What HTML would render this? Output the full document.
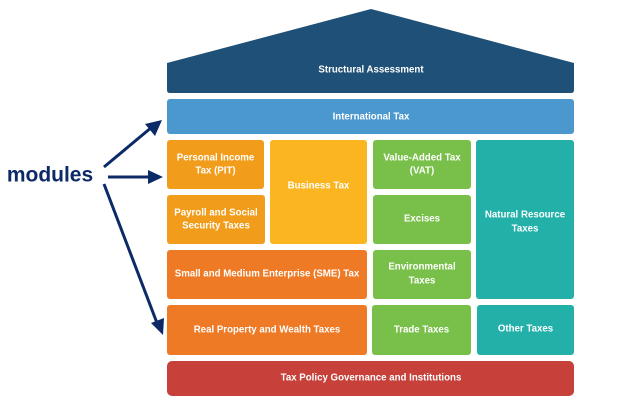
<!DOCTYPE html>
<html>
<head>
<meta charset="utf-8">
<style>
html,body{margin:0;padding:0;background:#fff;}
svg{display:block;}
text{font-family:"Liberation Sans",Arial,sans-serif;font-weight:bold;fill:#fff;font-size:9.7px;text-anchor:middle;dominant-baseline:central;}
</style>
</head>
<body>
<svg width="624" height="404" viewBox="0 0 624 404" xmlns="http://www.w3.org/2000/svg">
  <!-- roof -->
  <path d="M167,63 L371,9 L574,63 L574,90 Q574,93 571,93 L170,93 Q167,93 167,90 Z" fill="#1f5077"/>
  <text x="371" y="70">Structural Assessment</text>

  <rect x="167" y="99" width="407" height="35" rx="3" fill="#4b98cf"/>
  <text x="371" y="117">International Tax</text>

  <rect x="167" y="140" width="97" height="49" rx="3" fill="#f29c1c"/>
  <text x="215.5" y="158">Personal Income</text>
  <text x="215.5" y="171">Tax (PIT)</text>

  <rect x="167" y="195" width="98" height="49" rx="3" fill="#f29c1c"/>
  <text x="216" y="213">Payroll and Social</text>
  <text x="216" y="226">Security Taxes</text>

  <rect x="270" y="140" width="97" height="104" rx="3" fill="#fbb520"/>
  <text x="318.5" y="186">Business Tax</text>

  <rect x="373" y="140" width="98" height="49" rx="3" fill="#79c04a"/>
  <text x="422" y="158">Value-Added Tax</text>
  <text x="422" y="171">(VAT)</text>

  <rect x="373" y="195" width="98" height="49" rx="3" fill="#79c04a"/>
  <text x="422" y="219">Excises</text>

  <rect x="476" y="140" width="98" height="159" rx="3" fill="#22b0a9"/>
  <text x="525" y="215">Natural Resource</text>
  <text x="525" y="229">Taxes</text>

  <rect x="167" y="250" width="200" height="49" rx="3" fill="#ee7a26"/>
  <text x="267" y="274">Small and Medium Enterprise (SME) Tax</text>

  <rect x="373" y="250" width="98" height="49" rx="3" fill="#79c04a"/>
  <text x="422" y="267">Environmental</text>
  <text x="422" y="281">Taxes</text>

  <rect x="167" y="305" width="200" height="50" rx="3" fill="#ee7a26"/>
  <text x="267" y="330">Real Property and Wealth Taxes</text>

  <rect x="372" y="305" width="99" height="50" rx="3" fill="#79c04a"/>
  <text x="421.5" y="330">Trade Taxes</text>

  <rect x="477" y="305" width="97" height="50" rx="3" fill="#22b0a9"/>
  <text x="525.5" y="329">Other Taxes</text>

  <rect x="167" y="361" width="407" height="35" rx="5" fill="#c7403a"/>
  <text x="371" y="378">Tax Policy Governance and Institutions</text>

  <!-- modules label -->
  <text x="50" y="175" style="fill:#0c2a66;font-size:21px;">modules</text>

  <!-- arrows -->
  <g stroke="#0c2a66" stroke-width="3" fill="none">
    <line x1="104" y1="167" x2="152" y2="127"/>
    <line x1="108" y1="177" x2="150" y2="177"/>
    <line x1="104" y1="184" x2="157" y2="323"/>
  </g>
  <g fill="#0c2a66">
    <polygon points="162,120 155,136 145,124"/>
    <polygon points="163,177 148,170 148,184"/>
    <polygon points="163,335 151,323 164,318"/>
  </g>
</svg>
</body>
</html>
